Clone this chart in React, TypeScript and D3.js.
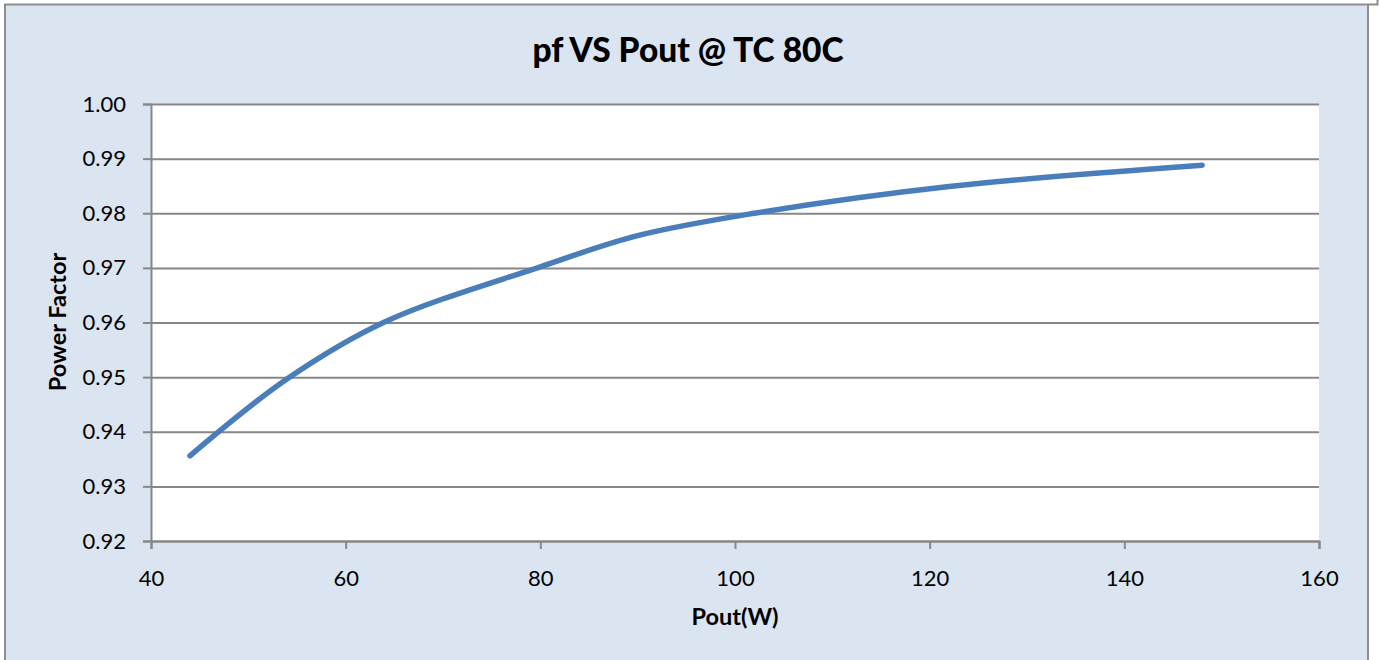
import React, { useEffect, useRef } from "react";
import * as d3 from "d3";

const pout = [44, 54, 64, 80, 90, 102, 122, 148];
const pf = [0.9356, 0.9497, 0.9601, 0.9702, 0.9759, 0.9800, 0.9849, 0.9888];
const xTicks = [40, 60, 80, 100, 120, 140, 160];
const yTicks = [0.92, 0.93, 0.94, 0.95, 0.96, 0.97, 0.98, 0.99, 1.0];

const W = 1380;
const H = 660;
const font = "Lato, 'Open Sans', sans-serif";

export default function App() {
  const ref = useRef<SVGSVGElement>(null);

  useEffect(() => {
    const svg = d3.select(ref.current);
    svg.selectAll("*").remove();

    const margin = { top: 104, right: 1319, bottom: 541, left: 151 };
    const x = d3.scaleLinear().domain([40, 160]).range([margin.left, margin.right]);
    const y = d3.scaleLinear().domain([0.92, 1.0]).range([margin.bottom, margin.top]);

    // chart frame
    svg.append("rect").attr("x", 5).attr("y", 4).attr("width", 1363).attr("height", 660)
      .attr("fill", "#dbe5f1");
    svg.append("path").attr("d", "M5,660V4.5H1377.5V0")
      .attr("fill", "none").attr("stroke", "#8e8e8e").attr("stroke-width", 2);
    svg.append("line").attr("x1", 1368).attr("x2", 1368).attr("y1", 5).attr("y2", 660)
      .attr("stroke", "#8e8e8e").attr("stroke-width", 2);

    svg.append("rect")
      .attr("x", margin.left).attr("y", margin.top)
      .attr("width", margin.right - margin.left).attr("height", margin.bottom - margin.top)
      .attr("fill", "#fff");

    const yAxis = svg.append("g")
      .attr("transform", `translate(${margin.left},0)`)
      .call(d3.axisLeft(y).tickValues(yTicks).tickFormat(d3.format(".2f")).tickSize(8).tickPadding(17))
      .call(g => g.select(".domain").attr("stroke", "#878787").attr("stroke-width", 2))
      .call(g => g.selectAll(".tick line").attr("stroke", "#878787").attr("stroke-width", 2))
      .call(g => g.selectAll(".tick").append("line")
        .attr("x2", margin.right - margin.left)
        .attr("stroke", "#878787").attr("stroke-width", 2));
    yAxis.selectAll("text").attr("font-family", font).attr("font-size", 22).attr("fill", "#000");

    const xAxis = svg.append("g")
      .attr("transform", `translate(0,${margin.bottom})`)
      .call(d3.axisBottom(x).tickValues(xTicks).tickSize(8).tickPadding(21))
      .call(g => g.select(".domain").attr("stroke", "#878787").attr("stroke-width", 2))
      .call(g => g.selectAll(".tick line").attr("stroke", "#878787").attr("stroke-width", 2));
    xAxis.selectAll("text").attr("font-family", font).attr("font-size", 22).attr("fill", "#000");

    const line = d3.line<number>()
      .x((d, i) => x(pout[i]))
      .y(d => y(d))
      .curve(d3.curveCatmullRom.alpha(0.5));

    svg.append("path")
      .datum(pf)
      .attr("d", line)
      .attr("fill", "none")
      .attr("stroke", "#4a7ebb")
      .attr("stroke-width", 5.5)
      .attr("stroke-linecap", "round")
      .attr("stroke-linejoin", "round");

    svg.append("text")
      .attr("x", 688).attr("y", 62)
      .attr("text-anchor", "middle")
      .attr("font-family", font).attr("font-weight", 900).attr("font-size", 33.5)
      .text("pf VS Pout @ TC 80C");

    svg.append("text")
      .attr("x", 735).attr("y", 625)
      .attr("text-anchor", "middle")
      .attr("font-family", font).attr("font-weight", "bold").attr("font-size", 23.5)
      .text("Pout(W)");

    svg.append("text")
      .attr("transform", "translate(66,322) rotate(-90)")
      .attr("text-anchor", "middle")
      .attr("font-family", font).attr("font-weight", "bold").attr("font-size", 23.5)
      .text("Power Factor");
  }, []);

  return (
    <svg ref={ref} width={W} height={H}
      style={{ position: "absolute", left: 0, top: 0, display: "block" }} />
  );
}
